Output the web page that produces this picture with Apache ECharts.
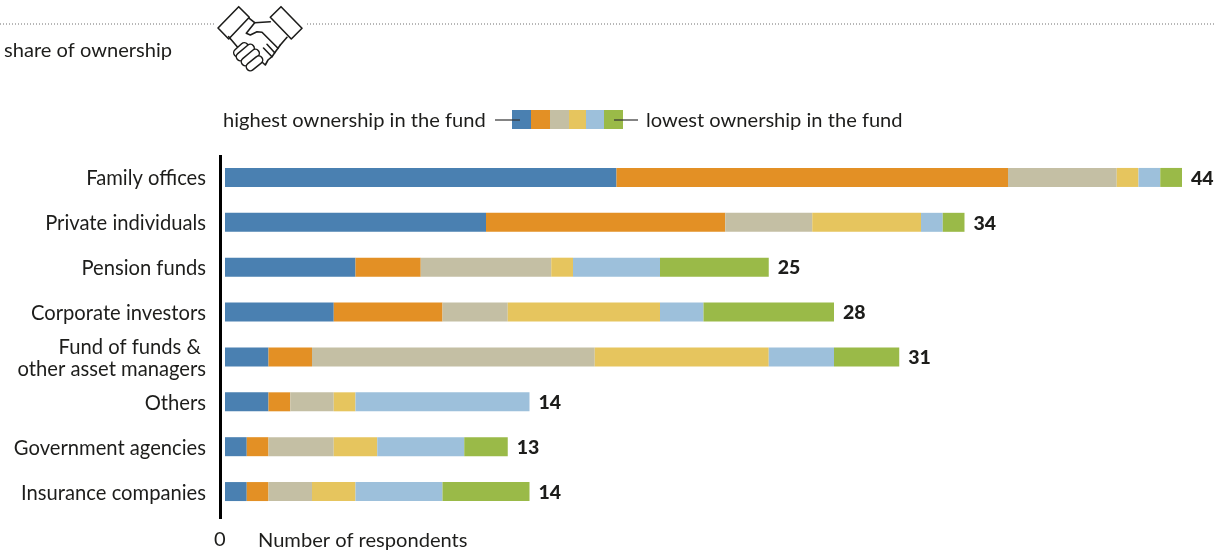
<!DOCTYPE html>
<html><head><meta charset="utf-8">
<style>html,body{margin:0;padding:0;background:#fff}#c{width:1216px;height:551px}</style>
<script src="https://cdn.jsdelivr.net/npm/echarts@6/dist/echarts.min.js"></script>
</head><body><div id="c"></div>
<script>
const categories = ['Family offices','Private individuals','Pension funds','Corporate investors','Fund of funds & \nother asset managers','Others','Government agencies','Insurance companies'];
const rank1 = [18,12,6,5,2,2,1,1];
const rank2 = [18,11,3,5,2,1,1,1];
const rank3 = [5,4,6,3,13,2,3,2];
const rank4 = [1,5,1,7,8,1,2,2];
const rank5 = [1,1,4,2,3,8,4,4];
const rank6 = [1,1,5,6,3,0,2,4];
const totals = [44,34,25,28,31,14,13,14];
const colors = ['#4a80b1','#e39025','#c4bfa4','#e6c55e','#9dc0db','#9aba48'];
const ranks = [rank1,rank2,rank3,rank4,rank5,rank6];
const FONT = 'Lato';
const ink = '#1d1d1b';
const chart = echarts.init(document.getElementById('c'), null, {renderer:'canvas'});
const series = ranks.map((d,i)=>({type:'bar',stack:'a',data:d,barWidth:19,itemStyle:{color:colors[i]},silent:true}));
series.push({type:'scatter',data:totals.map((v,i)=>[v,i]),symbolSize:0,silent:true,clip:false,itemStyle:{opacity:1},
  label:{show:true,position:'right',distance:9,offset:[0,1],opacity:1,fontFamily:FONT,fontSize:19.5,fontWeight:900,color:ink,formatter:p=>p.value[0]}});
const swatchX=[512,531,550,569,586,604,623];
const lines=[[0,24,215,24],[307,24,1216,24]].map(a=>({type:'line',shape:{x1:a[0],y1:a[1],x2:a[2],y2:a[3]},style:{stroke:'#6f6f6f',lineWidth:1,lineDash:[1,2]}}));
const swatches=colors.map((c,i)=>({type:'rect',shape:{x:swatchX[i],y:110,width:swatchX[i+1]-swatchX[i],height:19},style:{fill:c}}));
const txt=(x,y,t,align)=>({type:'text',x,y,style:{text:t,font:'20.1px '+FONT,fill:ink,align:align||'left',verticalAlign:'middle'}});
const iconStroke={fill:'none',stroke:ink,lineWidth:1.6,lineJoin:'round',lineCap:'round'};
const handPaths=[
 [[218,28],[238.7,6.7],[249.3,17.3],[228.7,39],[218,28]],
 [[270.3,17.3],[281,6.7],[302,28.3],[291.3,39],[270.3,17.3]],
 [[249.3,18.3],[254.7,22.7],[270.3,21.7]],
 [[254.7,22.7],[246.3,33.3],[250.3,35],[257,31.7],[262,32.3],[278,48.3],[274.7,52.7],[267,44.3]],
 [[274.7,52.7],[272,56.7],[263.5,48]],
 [[272,56.7],[268,60],[265.3,65],[259.7,60]],
 [[280.3,45],[287,37.3]],
 [[278,48.3],[280.3,45]],
 [[228.7,36.7],[240,50]]
];
const icon=handPaths.map(p=>({type:'polyline',shape:{points:p},style:iconStroke,z:5}));
const fingers=[[237.7,52.7,244.3,46.7],[240.3,56.7,250.3,48.3],[245.3,61.7,255.3,53.3],[250.3,66.7,258.7,60]];
const fingerEls=fingers.flatMap(f=>[
 {type:'line',shape:{x1:f[0],y1:f[1],x2:f[2],y2:f[3]},style:{stroke:ink,lineWidth:9.5,lineCap:'round'},z:6},
 {type:'line',shape:{x1:f[0],y1:f[1],x2:f[2],y2:f[3]},style:{stroke:'#fff',lineWidth:6.5,lineCap:'round'},z:6}
]);
chart.setOption({
  animation:false,
  grid:{left:225,top:155,width:957,height:359},
  xAxis:{type:'value',min:0,max:44,interval:44,splitLine:{show:false},axisLine:{show:false},axisTick:{show:false},
    axisLabel:{show:false}},
  yAxis:{type:'category',inverse:true,data:categories,axisTick:{show:false},axisLine:{show:false},
    axisLabel:{margin:19,align:'right',
      formatter:v=>v.split('\n').map(s=>'{a|'+s+'}').join('\n'),
      rich:{a:{fontFamily:FONT,fontSize:20.2,color:ink,lineHeight:22,padding:[3,0,0,0]}}}},
  series,
  graphic:[...lines,...swatches,
    {type:'line',shape:{x1:495,y1:120,x2:520,y2:120},style:{stroke:'#333',lineWidth:1.5,opacity:.8},z:10},
    {type:'line',shape:{x1:614,y1:120,x2:638,y2:120},style:{stroke:'#333',lineWidth:1.5,opacity:.8},z:10},
    {type:'line',shape:{x1:220.5,y1:155,x2:220.5,y2:519},style:{stroke:'#000',lineWidth:3}},
    txt(4,51,'share of ownership'),
    txt(223,121,'highest ownership in the fund'),
    txt(646,121,'lowest ownership in the fund'),
    txt(214,540,'0'),
    txt(258,541,'Number of respondents'),
    ...icon,...fingerEls
  ]
});
</script></body></html>
